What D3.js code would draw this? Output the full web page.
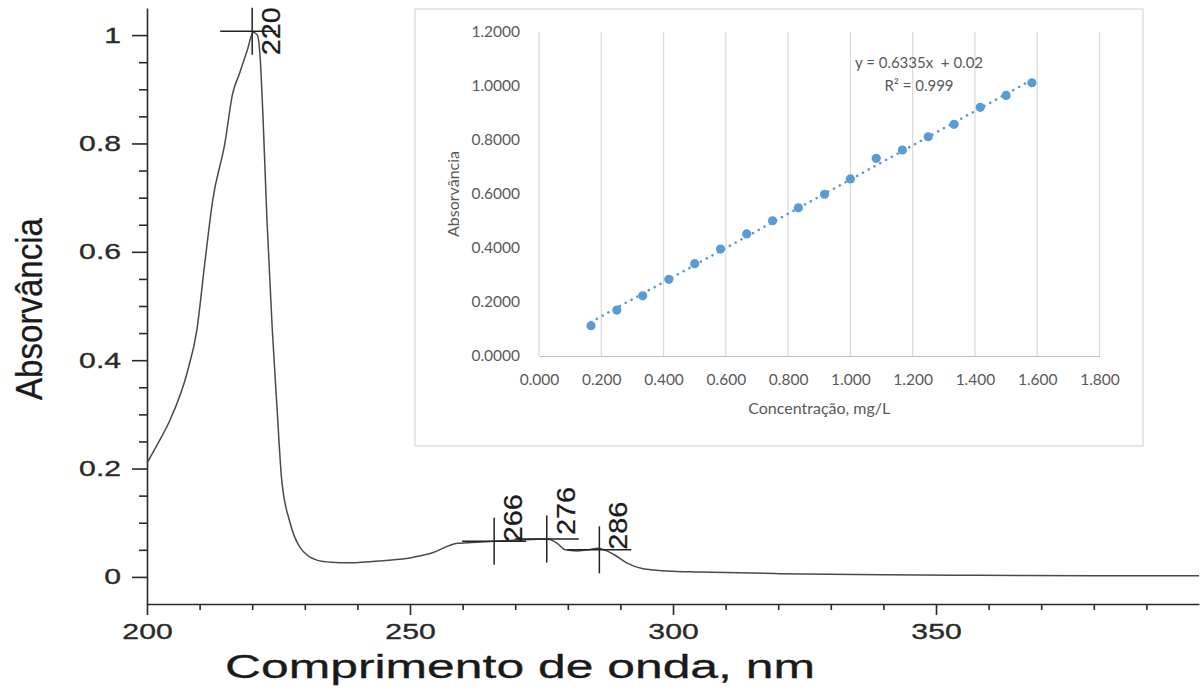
<!DOCTYPE html>
<html>
<head>
<meta charset="utf-8">
<script src="https://cdn.jsdelivr.net/npm/d3@7"></script>
<style>
  body { margin: 0; background: #fff; }
  svg { display: block; }
</style>
</head>
<body>
<svg id="chart" width="1200" height="691"></svg>
<script>
// UV spectrum (main chart)
const wavelengths = [200, 202, 204.4, 207.6, 209.5, 211, 212.5, 214.8, 216.3, 217.5, 219, 220.2, 221, 221.5, 222.05, 222.8, 223.8, 224.7, 225.6, 227.2, 229, 232.3, 235, 238.6, 244.9, 250.5, 254.4, 257.5, 259, 261, 266, 270.3, 276, 278, 279.5, 281.7, 284, 285.7, 287.4, 289, 291.2, 294.3, 298.9, 305, 320, 340, 358, 380, 400];
const absorbances = [0.21, 0.245, 0.29, 0.376, 0.457, 0.58, 0.696, 0.80, 0.893, 0.927, 0.97, 1.005, 1.0, 0.96, 0.85, 0.66, 0.46, 0.315, 0.18, 0.10, 0.056, 0.031, 0.027, 0.026, 0.03, 0.036, 0.045, 0.058, 0.062, 0.063, 0.066, 0.068, 0.07, 0.062, 0.05, 0.048, 0.05, 0.053, 0.048, 0.04, 0.026, 0.015, 0.011, 0.009, 0.006, 0.004, 0.003, 0.002, 0.002];
const peakNm = [220, 266, 276, 286];
const peakAbs = [1.007, 0.066, 0.070, 0.050];
const peakLabels = ["220", "266", "276", "286"];
const absTicks = [0, 0.2, 0.4, 0.6, 0.8, 1];
const absTickLabels = ["0", "0.2", "0.4", "0.6", "0.8", "1"];
const absMinorTicks = [0.05, 0.1, 0.15, 0.25, 0.3, 0.35, 0.45, 0.5, 0.55, 0.65, 0.7, 0.75, 0.85, 0.9, 0.95];
const nmTicks = [200, 250, 300, 350];
const nmMinorTicks = [210, 220, 230, 240, 260, 270, 280, 290, 310, 320, 330, 340, 360, 370, 380, 390];

// calibration curve (inset)
const concentrations = [0.167, 0.250, 0.333, 0.417, 0.500, 0.583, 0.667, 0.750, 0.833, 0.917, 1.000, 1.083, 1.167, 1.250, 1.333, 1.417, 1.500, 1.583];
const calibAbs = [0.112, 0.170, 0.223, 0.284, 0.342, 0.396, 0.452, 0.501, 0.549, 0.599, 0.656, 0.732, 0.763, 0.812, 0.858, 0.921, 0.965, 1.012];
const trendSlope = 0.6335, trendIntercept = 0.02;
const concTicks = [0, 0.2, 0.4, 0.6, 0.8, 1.0, 1.2, 1.4, 1.6, 1.8];
const insetAbsTicks = [0, 0.2, 0.4, 0.6, 0.8, 1.0, 1.2];

const svg = d3.select("#chart");
const ink = "#2a2a2a";
const mainFont = "'Liberation Sans', Arial, sans-serif";
const stretch = 1.37; // the scanned figure is wider than it is tall

const x = d3.scaleLinear().domain([200, 400]).range([147, 1199]);
const y = d3.scaleLinear().domain([-0.05, 1.05]).range([604, 8]);

function styleAxis(g) {
  g.attr("font-family", mainFont).attr("font-size", 22);
  g.selectAll("path, line").attr("stroke", ink).attr("stroke-width", 1.6);
  g.selectAll("text").attr("fill", ink).attr("stroke", ink).attr("stroke-width", 0.35);
}

// y axis
const yAxis = svg.append("g").attr("transform", "translate(147,0)")
  .call(d3.axisLeft(y).tickValues(absTicks).tickSize(15).tickSizeOuter(0).tickPadding(11)
    .tickFormat((d, i) => absTickLabels[i]))
  .call(styleAxis);
yAxis.selectAll("text")
  .attr("x", -26 / stretch)
  .attr("transform", `scale(${stretch},1)`);
svg.append("g").attr("transform", "translate(147,0)")
  .call(d3.axisLeft(y).tickValues(absMinorTicks).tickSize(8).tickFormat(""))
  .call(g => g.select(".domain").remove())
  .call(styleAxis);

// x axis
const xAxis = svg.append("g").attr("transform", "translate(0,604)")
  .call(d3.axisBottom(x).tickValues(nmTicks).tickSize(11).tickSizeOuter(0).tickPadding(8))
  .call(styleAxis);
xAxis.selectAll("text").attr("transform", `scale(${stretch},1)`);
svg.append("g").attr("transform", "translate(0,604)")
  .call(d3.axisBottom(x).tickValues(nmMinorTicks).tickSize(6).tickFormat(""))
  .call(g => g.select(".domain").remove())
  .call(styleAxis);

// axis titles
svg.append("text")
  .attr("transform", "translate(42,309) rotate(-90)")
  .attr("text-anchor", "middle")
  .attr("font-family", mainFont)
  .attr("font-size", 37)
  .attr("textLength", 182).attr("lengthAdjust", "spacingAndGlyphs")
  .attr("fill", "#1a1a1a").attr("stroke", "#1a1a1a").attr("stroke-width", 0.3)
  .text("Absorvância");
svg.append("text")
  .attr("x", 520).attr("y", 678)
  .attr("text-anchor", "middle")
  .attr("font-family", mainFont)
  .attr("font-size", 33)
  .attr("textLength", 590).attr("lengthAdjust", "spacingAndGlyphs")
  .attr("fill", "#1a1a1a").attr("stroke", "#1a1a1a").attr("stroke-width", 0.3)
  .text("Comprimento de onda, nm");

// spectrum
const spectrum = wavelengths.map((w, i) => [w, absorbances[i]]);
svg.append("path")
  .datum(spectrum)
  .attr("fill", "none")
  .attr("stroke", "#4a4a4a")
  .attr("stroke-width", 1.5)
  .attr("d", d3.line().x(d => x(d[0])).y(d => y(d[1])).curve(d3.curveMonotoneX));

// peak markers
const labelShift = [24, 1, -4, 0];
const peaks = svg.append("g").attr("stroke", "#222").attr("stroke-width", 1.5);
peakNm.forEach((nm, i) => {
  const px = x(nm), py = y(peakAbs[i]);
  peaks.append("line").attr("x1", px).attr("x2", px).attr("y1", py - 23.5).attr("y2", py + 23.5);
  peaks.append("line").attr("x1", px - 32).attr("x2", px + (i === 0 ? 24 : 32)).attr("y1", py).attr("y2", py);
  svg.append("text")
    .attr("transform", `translate(${px + 28},${py + labelShift[i]}) rotate(-90)`)
    .attr("font-family", mainFont)
    .attr("font-size", 25)
    .attr("textLength", 48).attr("lengthAdjust", "spacingAndGlyphs")
    .attr("fill", "#1a1a1a").attr("stroke", "#1a1a1a").attr("stroke-width", 0.25)
    .text(peakLabels[i]);
});

// ---------- inset: calibration curve ----------
const inset = svg.append("g");
inset.append("rect")
  .attr("x", 415).attr("y", 9).attr("width", 728).attr("height", 437)
  .attr("fill", "#fff").attr("stroke", "#d9d9d9").attr("stroke-width", 1.2);

const xi = d3.scaleLinear().domain([0, 1.8]).range([539, 1099.5]);
const yi = d3.scaleLinear().domain([0, 1.2]).range([356, 32]);
const insetFont = "Lato, 'Open Sans', sans-serif";
const insetInk = "#595959";

inset.append("g")
  .selectAll("line")
  .data(concTicks)
  .join("line")
  .attr("x1", d => xi(d)).attr("x2", d => xi(d))
  .attr("y1", yi(1.2)).attr("y2", yi(0))
  .attr("stroke", "#d9d9d9").attr("stroke-width", 1.2);

inset.append("g").attr("transform", `translate(0,${yi(0)})`)
  .call(d3.axisBottom(xi).tickValues(concTicks).tickSize(0).tickSizeOuter(0).tickPadding(18)
    .tickFormat(d3.format(".3f")))
  .call(g => g.select(".domain").attr("stroke", "#bfbfbf").attr("stroke-width", 1.2))
  .call(g => g.attr("font-family", insetFont).attr("font-size", 15.5))
  .call(g => g.selectAll("text").attr("fill", insetInk));

inset.append("g").attr("transform", `translate(${xi(0)},0)`)
  .call(d3.axisLeft(yi).tickValues(insetAbsTicks).tickSize(0).tickPadding(19)
    .tickFormat(d3.format(".4f")))
  .call(g => g.select(".domain").remove())
  .call(g => g.attr("font-family", insetFont).attr("font-size", 15.5))
  .call(g => g.selectAll("text").attr("fill", insetInk));

inset.append("text")
  .attr("x", (xi(0) + xi(1.8)) / 2).attr("y", 414)
  .attr("text-anchor", "middle")
  .attr("font-family", insetFont).attr("font-size", 16)
  .attr("fill", insetInk)
  .text("Concentração, mg/L");
inset.append("text")
  .attr("transform", `translate(459,${(yi(0) + yi(1.2)) / 2}) rotate(-90)`)
  .attr("text-anchor", "middle")
  .attr("font-family", insetFont).attr("font-size", 16)
  .attr("fill", insetInk)
  .text("Absorvância");

// trendline
const c0 = d3.min(concentrations), c1 = d3.max(concentrations);
inset.append("line")
  .attr("x1", xi(c0)).attr("y1", yi(trendSlope * c0 + trendIntercept))
  .attr("x2", xi(c1)).attr("y2", yi(trendSlope * c1 + trendIntercept))
  .attr("stroke", "#5b9bd5").attr("stroke-width", 2.6)
  .attr("stroke-linecap", "round").attr("stroke-dasharray", "0.1 6.5");

inset.append("g")
  .selectAll("circle")
  .data(concentrations)
  .join("circle")
  .attr("cx", d => xi(d))
  .attr("cy", (d, i) => yi(calibAbs[i]))
  .attr("r", 4.6)
  .attr("fill", "#5b9bd5");

const eq = inset.append("text")
  .attr("font-family", insetFont).attr("font-size", 15)
  .attr("fill", insetInk).attr("text-anchor", "middle");
eq.append("tspan").attr("x", 919).attr("y", 68).text("y = 0.6335x  + 0.02").attr("xml:space", "preserve");
eq.append("tspan").attr("x", 919).attr("y", 91).text("R² = 0.999");
</script>
</body>
</html>
